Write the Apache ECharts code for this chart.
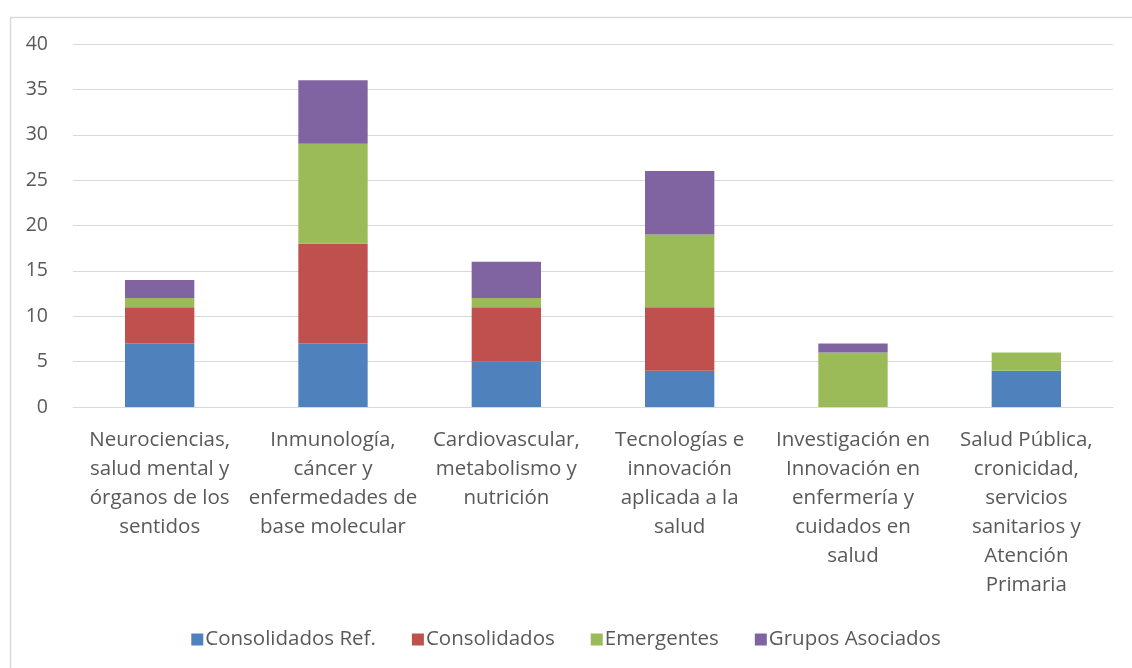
<!DOCTYPE html>
<html>
<head>
<meta charset="utf-8">
<script src="https://cdn.jsdelivr.net/npm/echarts@6/dist/echarts.min.js"></script>
<style>html,body{margin:0;padding:0;background:#fff}#c{width:1132px;height:668px}</style>
</head>
<body>
<div id="c"></div>
<script>
const categories = [
  "Neurociencias,\nsalud mental y\nórganos de los\nsentidos",
  "Inmunología,\ncáncer y\nenfermedades de\nbase molecular",
  "Cardiovascular,\nmetabolismo y\nnutrición",
  "Tecnologías e\ninnovación\naplicada a la\nsalud",
  "Investigación en\nInnovación en\nenfermería y\ncuidados en\nsalud",
  "Salud Pública,\ncronicidad,\nservicios\nsanitarios y\nAtención\nPrimaria"
];
const consolidadosRef = [7, 7, 5, 4, 0, 4];
const consolidados = [4, 11, 6, 7, 0, 0];
const emergentes = [1, 11, 1, 8, 6, 2];
const gruposAsociados = [2, 7, 4, 7, 1, 0];
const seriesNames = ["Consolidados Ref.", "Consolidados", "Emergentes", "Grupos Asociados"];
const colors = ["#4F81BD", "#C0504D", "#9BBB59", "#8064A2"];
const yTicks = { min: 0, max: 40, interval: 5 };

const font = "'Open Sans', Lato, sans-serif";
const dataSets = [consolidadosRef, consolidados, emergentes, gruposAsociados];
const chart = echarts.init(document.getElementById('c'));
chart.setOption({
  animation: false,
  color: colors,
  textStyle: { fontFamily: font },
  graphic: [{
    type: 'rect', left: 8, top: 15, shape: { width: 1200, height: 700 },
    style: { fill: 'none', stroke: '#d9d9d9', lineWidth: 1.5 }, silent: true, z: -1
  }],
  grid: { left: 73, right: 19, top: 44, bottom: 261 },
  legend: {
    bottom: 13, left: 'center', itemWidth: 12, itemHeight: 12, itemGap: 36,
    icon: 'rect',
    textStyle: { fontSize: 20.5, color: '#595959', fontFamily: font, padding: [0, 0, 0, -3] },
    data: seriesNames
  },
  xAxis: {
    type: 'category', data: categories,
    axisLine: { show: true, lineStyle: { color: '#d9d9d9', width: 1 } },
    axisTick: { show: false },
    axisLabel: { interval: 0, fontSize: 20.5, color: '#595959', lineHeight: 29, margin: 19, fontFamily: font, align: 'center' }
  },
  yAxis: {
    type: 'value', min: yTicks.min, max: yTicks.max, interval: yTicks.interval,
    axisLine: { show: false }, axisTick: { show: false },
    axisLabel: { fontSize: 19.5, color: '#595959', margin: 25, fontFamily: font },
    splitLine: { lineStyle: { color: '#d9d9d9', width: 1 } }
  },
  series: dataSets.map((d, i) => ({
    name: seriesNames[i], type: 'bar', stack: 'total', data: d, barWidth: '40%'
  }))
});
</script>
</body>
</html>
